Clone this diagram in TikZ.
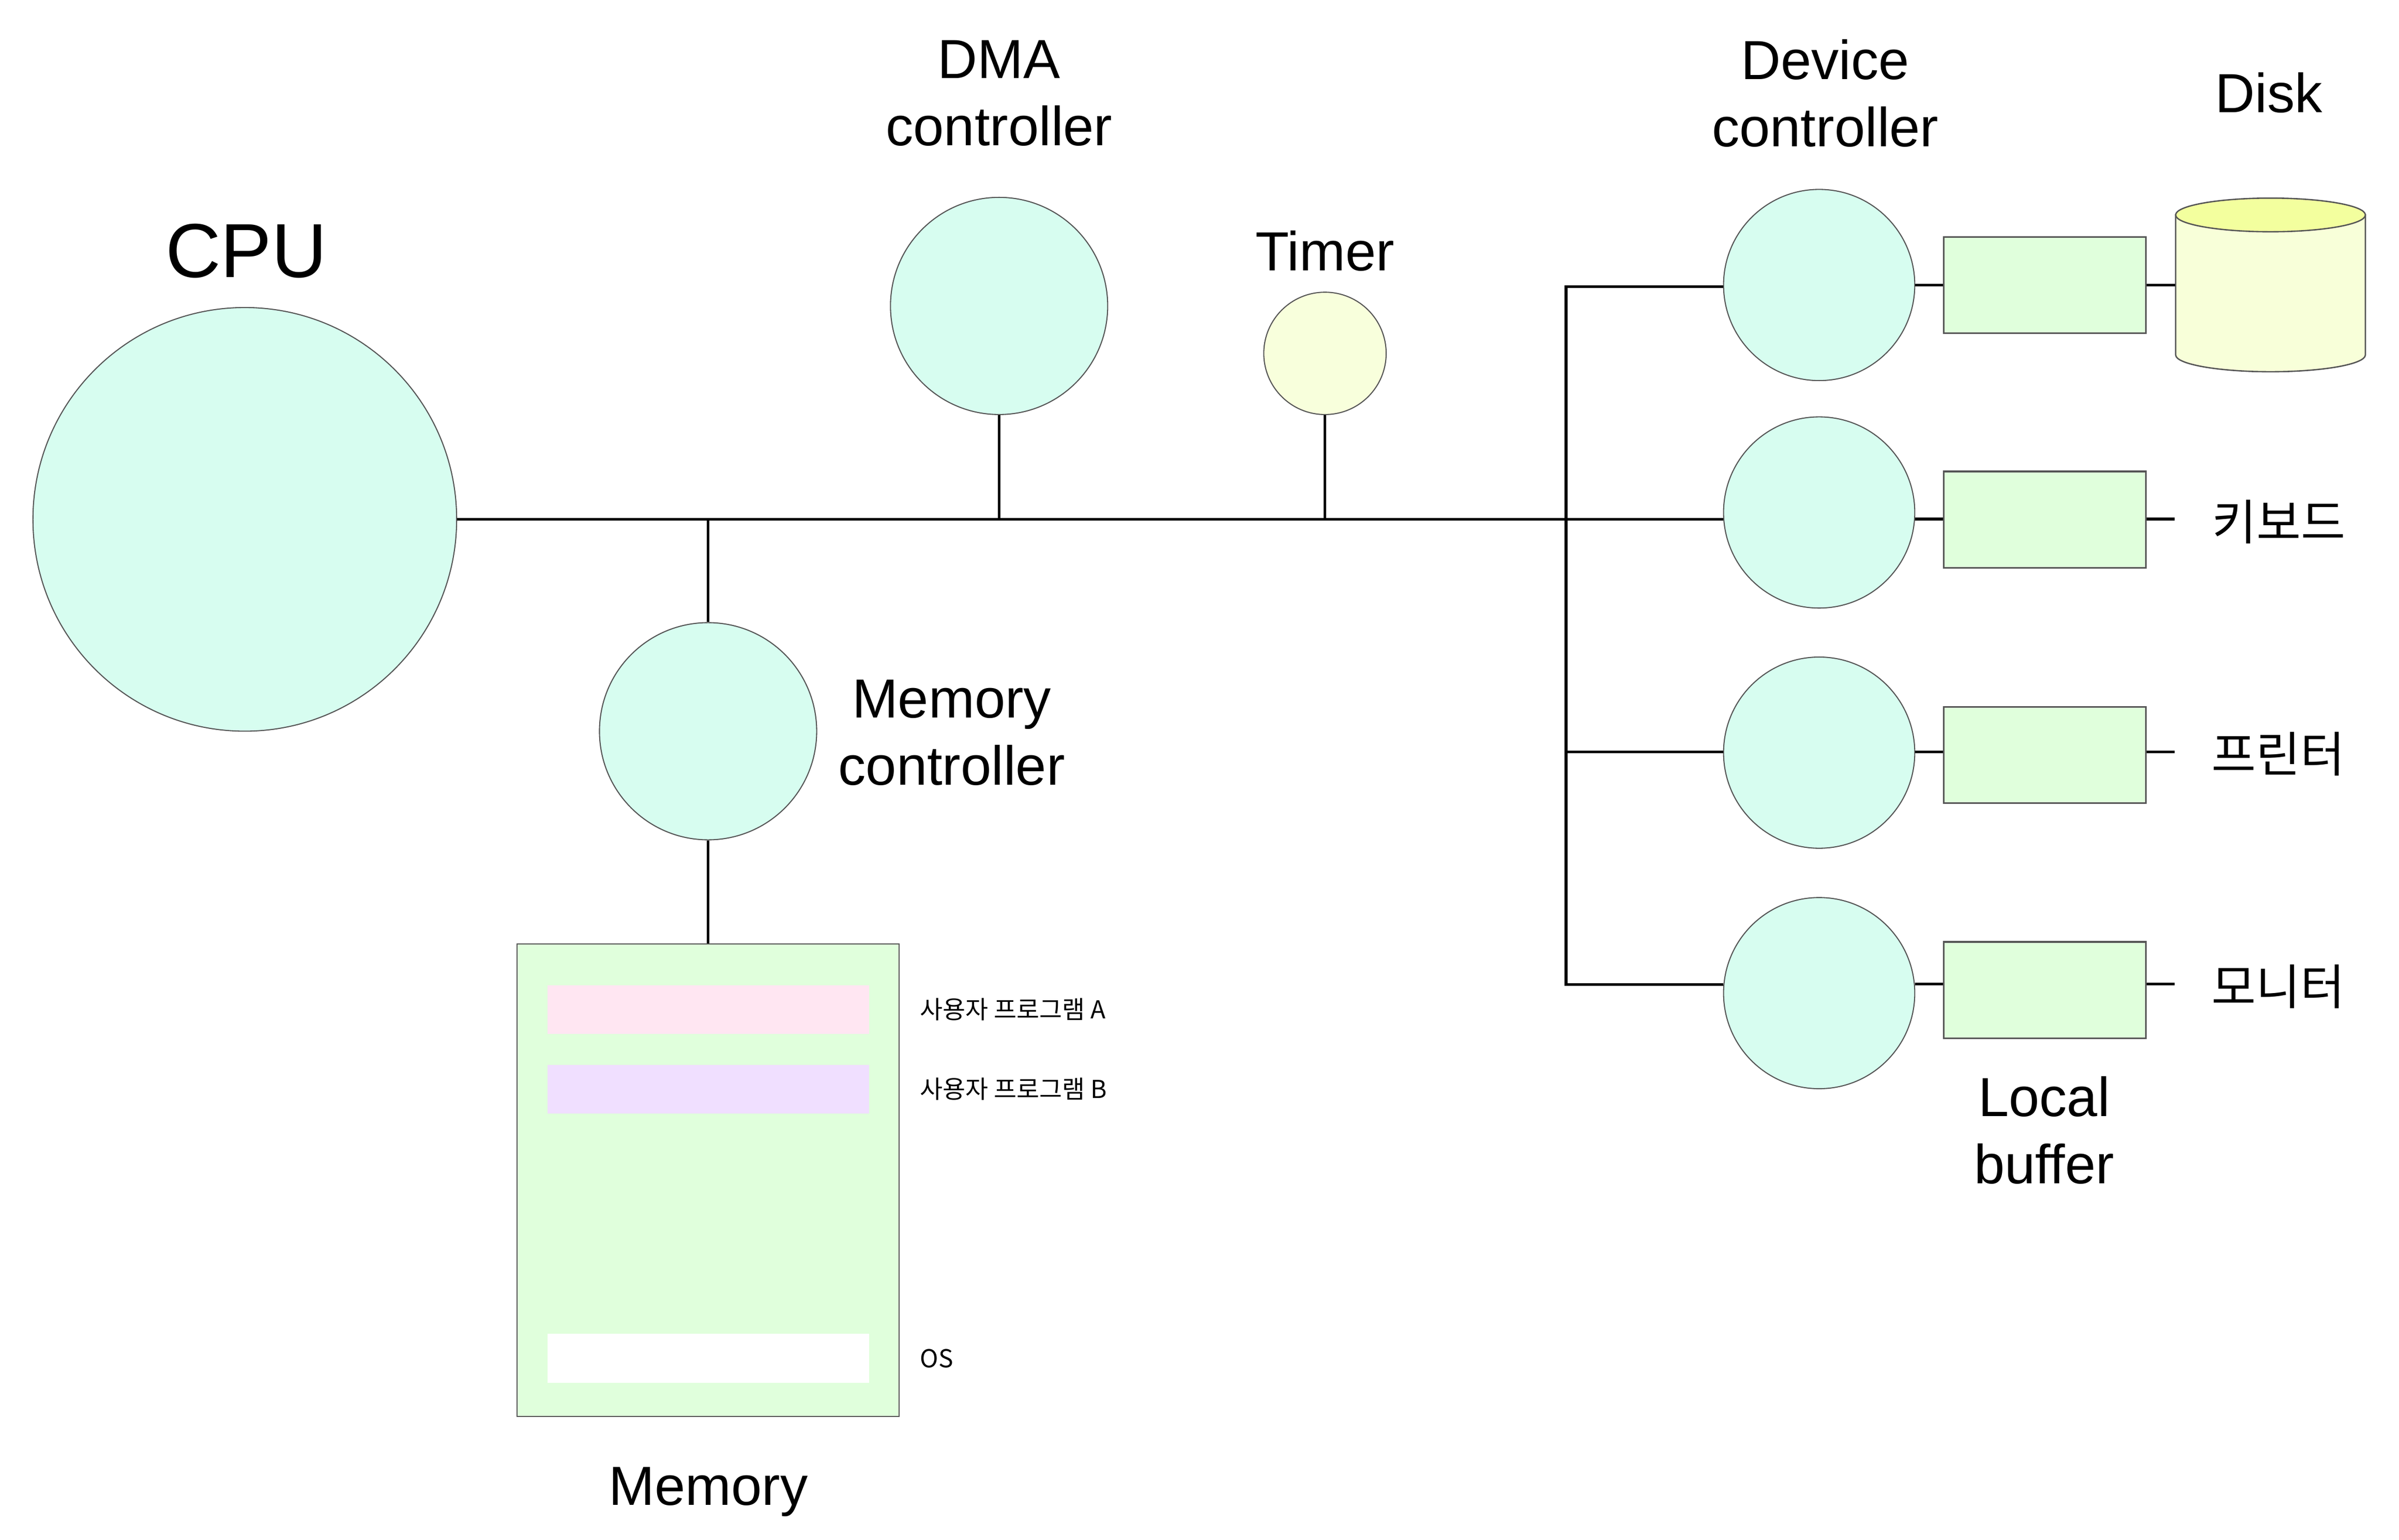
\documentclass[tikz,border=0pt]{standalone}
\usepackage{fontspec}
\setmainfont{Liberation Sans}
\newfontfamily\krfont{Noto Sans CJK KR}
\definecolor{mint}{HTML}{D7FDF0}
\definecolor{timeryellow}{HTML}{F8FFDC}
\definecolor{buffgreen}{HTML}{E0FFDC}
\definecolor{diskbody}{HTML}{F8FFD9}
\definecolor{disktop}{HTML}{F3FF9E}
\definecolor{progpink}{HTML}{FFE6F2}
\definecolor{progpurple}{HTML}{F0DFFF}
\definecolor{edgegray}{HTML}{555555}

\begin{document}
\begin{tikzpicture}[x=0.02cm,y=-0.02cm,
    ctrl/.style={draw=edgegray,line width=0.4pt,circle,inner sep=0pt,fill=mint},
    buffer/.style={draw=edgegray,line width=0.6pt,rectangle,inner sep=0pt,fill=buffgreen,minimum width=2.64cm,minimum height=1.26cm},
    slot/.style={rectangle,inner sep=0pt,minimum width=4.2cm,minimum height=0.64cm},
    txt/.style={font=\fontsize{20.5}{25}\selectfont,align=center,inner sep=0pt},
    devtxt/.style={font=\krfont\fontsize{18}{20}\selectfont,inner sep=0pt},
    progtxt/.style={font=\krfont\fontsize{9.2}{10}\selectfont,anchor=west,inner sep=0pt},
    wire/.style={line width=1pt}]
        \useasboundingbox (0,0) rectangle (1568,1006.4);

        % bus side
        \node[ctrl,minimum size=5.54cm] (cpu) at (160,339.5) {};
        \node[ctrl,minimum size=2.84cm] (dma) at (653,200) {};
        \node[ctrl,minimum size=1.6cm,fill=timeryellow] (timer) at (866,231) {};
        \node[ctrl,minimum size=2.84cm] (memctrl) at (462.8,478) {};
        \node[draw=edgegray,line width=0.4pt,fill=buffgreen,inner sep=0pt,minimum width=4.99cm,minimum height=6.18cm] (memory) at (462.8,771.5) {};
        \node[slot,fill=progpink] (proga) at (463,660) {};
        \node[slot,fill=progpurple] (progb) at (463,712) {};
        \node[slot,fill=white] (os) at (463,888) {};

        % devices
        \node[ctrl,minimum size=2.5cm] (dev1) at (1189,186.3) {};
        \node[ctrl,minimum size=2.5cm] (dev2) at (1189,335) {};
        \node[ctrl,minimum size=2.5cm] (dev3) at (1189,492) {};
        \node[ctrl,minimum size=2.5cm] (dev4) at (1189,649.2) {};
        \node[buffer] (buf1) at (1336.5,186.3) {};
        \node[buffer] (buf2) at (1336.5,339.7) {};
        \node[buffer] (buf3) at (1336.5,493.6) {};
        \node[buffer] (buf4) at (1336.5,647.2) {};

        % disk
        \node[inner sep=0pt,minimum width=2.48cm,minimum height=2.27cm] (disk) at (1484,186.3) {};
        \draw[draw=edgegray,line width=0.5pt,fill=diskbody] (1422,140.5) -- (1422,232)
            arc[start angle=180,end angle=0,x radius=62,y radius=11] -- (1546,140.5) -- cycle;
        \draw[draw=edgegray,line width=0.5pt,fill=disktop] (1484,140.5) ellipse[x radius=62,y radius=11];

        \coordinate (t1) at (1023.6,187.3);
        \coordinate (t3) at (1023.6,491.5);
        \coordinate (t4) at (1023.6,643.5);
        \coordinate (kbd) at (1421.4,339.3);
        \coordinate (prn) at (1421.4,491.5);
        \coordinate (mon) at (1421.4,643.3);

        % labels
        \node[txt,font=\fontsize{28.5}{32}\selectfont] (cpulbl) at (161,164) {CPU};
        \node[txt] (dmalbl) at (653,61) {DMA\\controller};
        \node[txt] (timerlbl) at (866,164) {Timer};
        \node[txt] (devlbl) at (1193,61) {Device\\controller};
        \node[txt] (disklbl) at (1483,60.5) {Disk};
        \node[txt] (memctrllbl) at (622,479) {Memory\\controller};
        \node[txt,anchor=base] (memlbl) at (463,984) {Memory};
        \node[txt] (buflbl) at (1336,739) {Local\\buffer};
        \node[devtxt] (kbdlbl) at (1489.5,341) {키보드};
        \node[devtxt] (prnlbl) at (1489,493) {프린터};
        \node[devtxt] (monlbl) at (1489,645) {모니터};
        \node[progtxt] (proglbla) at (601,660) {사용자 프로그램 A};
        \node[progtxt] (proglblb) at (601,712) {사용자 프로그램 B};
        \node[progtxt] (oslbl) at (601,888) {OS};

        % wires
        \draw[wire] (cpu.east) -- (cpu.east -| dev2.west);
        \draw[wire] (dma.south) -- (dma.south |- cpu.east);
        \draw[wire] (timer.south) -- (timer.south |- cpu.east);
        \draw[wire] (memctrl.north |- cpu.east) -- (memctrl.north);
        \draw[wire] (memctrl.south) -- (memory.north);
        \draw[wire] (t1 -| dev1.west) -- (t1) -- (t4) -- (t4 -| dev4.west);
        \draw[wire] (t3) -- (t3 -| dev3.west);
        \draw[wire] (dev1.east) -- (buf1.west);
        \draw[wire] (buf1.east) -- (buf1.east -| disk.west);
        \draw[wire] (kbd -| dev2.east) -- (kbd -| buf2.west);
        \draw[wire] (prn -| dev3.east) -- (prn -| buf3.west);
        \draw[wire] (mon -| dev4.east) -- (mon -| buf4.west);
        \draw[wire] (kbd -| buf2.east) -- (kbd);
        \draw[wire] (prn -| buf3.east) -- (prn);
        \draw[wire] (mon -| buf4.east) -- (mon);
    \end{tikzpicture}
\end{document}
